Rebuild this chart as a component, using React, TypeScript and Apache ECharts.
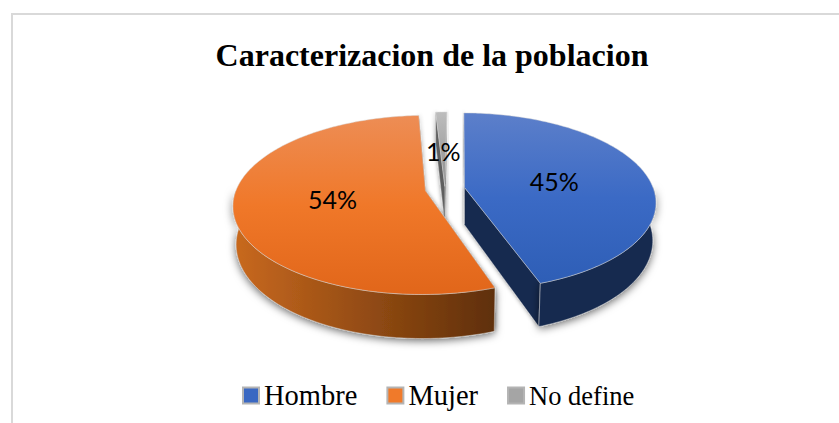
import React, { useEffect, useRef } from "react";
import * as echarts from "echarts";

const titleText = "Caracterizacion de la poblacion";
const categories = ["Hombre", "Mujer", "No define"];
const values = [44.5, 54.4, 1.1];
const startDeg = 0.7;

const view = { cx: 445, cy: 189, fx: 189, fy: 86.8, k: 0.157, depth: 37, shrink: 0.985 };
const explode = [0.105, 0.105, 0.03];
const labelR = [0.49, 0.49, 0.44];

const topFills = [
  ["#5C7FCA", "#3B6AC5", "#2E5EB6"],
  ["#ED8D55", "#F07829", "#E1661A"],
  ["#BDBDBD", "#A5A5A5", "#8C8C8C"],
];
const wallFills = [
  ["#15294F", "#15294F"],
  ["#C9691F", "#5F2F08"],
  ["#7A7A7A", "#5E5E5E"],
];
const legendColors = ["#3A68C2", "#F07A2A", "#A5A5A5"];
const drawOrder = [2, 1, 0];

const total = values.reduce((a, b) => a + b, 0);
function sliceAngles(i: number) {
  let a = startDeg;
  for (let j = 0; j < i; j++) a += (values[j] / total) * 360;
  return [a, a + (values[i] / total) * 360];
}
function project(X: number, Y: number, low: boolean) {
  const w = 1 + view.k * Y;
  const s = low ? view.shrink : 1;
  return [
    view.cx + (s * view.fx * X) / w,
    view.cy - (view.fy * Y) / w + (low ? view.depth / w : 0),
  ];
}
function offsetOf(i: number) {
  const [a0, a1] = sliceAngles(i);
  const m = (((a0 + a1) / 2) * Math.PI) / 180;
  return [explode[i] * Math.sin(m), explode[i] * Math.cos(m)];
}
function rimPoint(i: number, deg: number, r: number, low: boolean) {
  const [ox, oy] = offsetOf(i);
  const t = (deg * Math.PI) / 180;
  return project(ox + r * Math.sin(t), oy + r * Math.cos(t), low);
}
function toD(pts: number[][]) {
  return pts.map((p, n) => `${n ? "L" : "M"}${p[0].toFixed(2)} ${p[1].toFixed(2)}`).join("") + "Z";
}
function arc(i: number, a0: number, a1: number, low: boolean) {
  const pts: number[][] = [];
  const n = Math.max(2, Math.ceil(Math.abs(a1 - a0)));
  for (let s = 0; s <= n; s++) pts.push(rimPoint(i, a0 + ((a1 - a0) * s) / n, 1, low));
  return pts;
}
function linear(stops: string[], horizontal: boolean) {
  return new echarts.graphic.LinearGradient(0, 0, horizontal ? 1 : 0, horizontal ? 0 : 1,
    stops.map((color, n) => ({ offset: n / (stops.length - 1), color })));
}

function sliceItem(i: number) {
  const [a0, a1] = sliceAngles(i);
  const apexT = rimPoint(i, 0, 0, false);
  const apexB = rimPoint(i, 0, 0, true);
  const edge = "rgba(215,215,215,0.8)";
  const children: any[] = [];
  const wallStyle = { fill: linear(wallFills[i], true), stroke: edge, lineWidth: 0.6 };
  // cut faces
  [a1, a0].forEach((a) => {
    const t = rimPoint(i, a, 1, false);
    const b = rimPoint(i, a, 1, true);
    children.push({
      type: "path",
      shape: { pathData: toD([apexT, t, b, apexB]) },
      style: {
        fill: wallFills[i][wallFills[i].length - 1],
        stroke: edge,
        lineWidth: 0.5,
        shadowBlur: 4,
        shadowColor: "rgba(0,0,0,0.45)",
      },
    });
  });
  // outer wall: only the part facing the viewer
  const w0 = Math.max(a0, 90);
  const w1 = Math.min(a1, 270);
  if (w1 > w0) {
    children.push({
      type: "path",
      shape: { pathData: toD([...arc(i, w0, w1, false), ...arc(i, w0, w1, true).reverse()]) },
      style: {
        ...wallStyle,
        shadowBlur: 8,
        shadowColor: "rgba(0,0,0,0.6)",
        shadowOffsetY: 2,
      },
    });
  }
  // top face
  children.push({
    type: "path",
    shape: { pathData: toD([apexT, ...arc(i, a0, a1, false)]) },
    style: { fill: linear(topFills[i], false), stroke: edge, lineWidth: 0.6 },
  });
  return { type: "group", children };
}

function labelItem(i: number) {
  const [a0, a1] = sliceAngles(i);
  const p = rimPoint(i, (a0 + a1) / 2, labelR[i], false);
  return {
    type: "text",
    z2: 100,
    style: {
      x: p[0],
      y: p[1],
      text: `${Math.round(values[i])}%`,
      fill: "#000",
      font: "25px Lato",
      align: "center",
      verticalAlign: "middle",
    },
  };
}

export default function App() {
  const ref = useRef<HTMLDivElement>(null);
  useEffect(() => {
    const chart = echarts.init(ref.current!, undefined, { renderer: "svg" });
    chart.setOption({
      animation: false,
      backgroundColor: "#fff",
      title: {
        text: titleText,
        left: 427,
        top: 34,
        textAlign: "center",
        textStyle: { fontFamily: "Liberation Serif", fontWeight: "bold", fontSize: 32, color: "#000" },
      },
      legend: {
        left: 237,
        top: 376,
        itemWidth: 16,
        itemHeight: 16,
        itemGap: 29,
        icon: "rect",
        data: categories.map((name, i) => ({
          name,
          itemStyle: { color: legendColors[i], borderColor: "#B4B4B4", borderWidth: 2 },
        })),
        formatter: (n: string) => (n === categories[2] ? `{s|${n}}` : `{b|${n}}`),
        textStyle: {
          color: "#000",
          fontFamily: "Liberation Serif",
          rich: {
            b: { fontSize: 28.5, fontFamily: "Liberation Serif", color: "#000" },
            s: { fontSize: 26.5, fontFamily: "Liberation Serif", color: "#000" },
          },
        },
      },
      graphic: [
        {
          type: "polyline",
          silent: true,
          shape: { points: [[12, 423], [12, 14], [839, 14]] },
          style: { fill: "none", stroke: "#D9D9D9", lineWidth: 2 },
        },
      ],
      series: drawOrder.map((i, order) => ({
        type: "custom",
        name: categories[i],
        coordinateSystem: "none",
        silent: true,
        z: 2 + order,
        itemStyle: { color: legendColors[i] },
        data: [values[i]],
        renderItem: () => ({ type: "group", children: [sliceItem(i), labelItem(i)] }),
      })),
    });
    return () => chart.dispose();
  }, []);
  return <div ref={ref} style={{ position: "fixed", left: 0, top: 0, width: 839, height: 423 }} />;
}
